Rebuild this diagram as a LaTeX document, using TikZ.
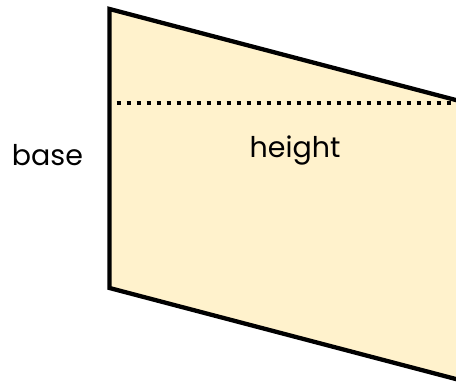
\documentclass[tikz,border=0pt]{standalone}
\usepackage{fontspec}
\setmainfont{Poppins}
\definecolor{shapefill}{HTML}{FFF2CC}
\tikzset{
  shapeline/.style={draw=black, line width=4.3pt, fill=shapefill, line join=miter},
  dotline/.style={draw=black, line width=4pt, dash pattern=on 3.8pt off 6.2pt},
  lbl/.style={font=\fontsize{28.5}{32}\selectfont, text=black, inner sep=0pt, anchor=base}
}
\begin{document}
\begin{tikzpicture}[x=1pt,y=-1pt]
\useasboundingbox (0,0) rectangle (456,385);
\clip (0,0) rectangle (456,385);
\coordinate (tl) at (109.5,9);
\coordinate (tr) at (490,109);
\coordinate (br) at (490,388);
\coordinate (bl) at (109.5,288);
\path[shapeline] (tl) -- (tr) -- (br) -- (bl) -- cycle;
\coordinate (dl) at (116.7,103);
\coordinate (dr) at (460,103);
\draw[dotline] (dl) -- (dr);
\node[lbl] (base) at (47.5,166) {base};
\node[lbl] (height) at (295,158) {height};
\end{tikzpicture}
\end{document}
